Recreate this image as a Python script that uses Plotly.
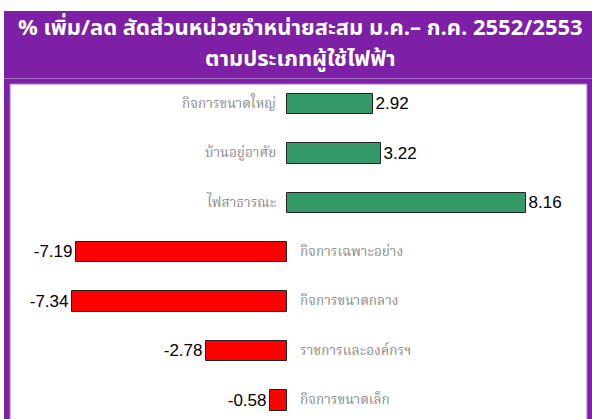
import plotly.graph_objects as go

categories = ["กิจการขนาดใหญ่", "บ้านอยู่อาศัย", "ไฟสาธารณะ", "กิจการเฉพาะอย่าง",
              "กิจการขนาดกลาง", "ราชการและองค์กรฯ", "กิจการขนาดเล็ก"]
values = [2.92, 3.22, 8.16, -7.19, -7.34, -2.78, -0.58]
title_lines = ["% เพิ่ม/ลด สัดส่วนหน่วยจำหน่ายสะสม ม.ค.– ก.ค. 2552/2553", "ตามประเภทผู้ใช้ไฟฟ้า"]

W, H = 592, 419
L, R, T, B = 10, 5, 84, 0
PW, PH = W - L - R, H - T - B
PURPLE = "#7E20A6"
LIGHT = "#A873C8"

def px(x):
    return (x - L) / PW

def py(y):
    return (H - B - y) / PH

ypos = list(range(len(categories)))
colors = ["#339966" if v >= 0 else "#FF0000" for v in values]

fig = go.Figure()
fig.add_trace(go.Bar(
    y=ypos, x=values, orientation="h",
    marker=dict(color=colors, line=dict(color="#222222", width=1)),
    width=0.41,
    text=[f"{v:.2f}" for v in values], textposition="outside",
    textfont=dict(family="Liberation Sans, Arial", size=17, color="black"),
    cliponaxis=False, hoverinfo="skip",
))

annotations = []
for i, (c, v) in enumerate(zip(categories, values)):
    annotations.append(dict(
        x=0, y=i, xref="x", yref="y", text=c, showarrow=False,
        xanchor="right" if v >= 0 else "left",
        xshift=-9 if v >= 0 else 11,
        font=dict(family="Noto Serif Thai, Noto Sans Thai, Noto Sans, DejaVu Sans", size=13.5, color="#8a8a8a"),
    ))
for j, (line, ycen) in enumerate(zip(title_lines, [28, 60])):
    annotations.append(dict(
        x=px(300), y=py(ycen), xref="paper", yref="paper", text=f"<b>{line}</b>",
        showarrow=False, xanchor="center", yanchor="middle",
        font=dict(family="Noto Sans Thai, Noto Sans, DejaVu Sans", size=22, color="white"),
    ))

shapes = [
    # purple panel
    dict(type="rect", xref="paper", yref="paper", x0=px(4), x1=px(W + 2), y0=py(H + 2), y1=py(11),
         fillcolor=PURPLE, line=dict(width=0), layer="below"),
    # white chart box
    dict(type="rect", xref="paper", yref="paper", x0=px(10), x1=px(587), y0=py(H + 2), y1=py(84),
         fillcolor="white", line=dict(color=LIGHT, width=1), layer="below"),
    # light separator under title
    dict(type="line", xref="paper", yref="paper", x0=px(4), x1=px(W + 2), y0=py(78.5), y1=py(78.5),
         line=dict(color=LIGHT, width=1), layer="below"),
]

fig.update_layout(
    width=W, height=H,
    margin=dict(l=L, r=R, t=T, b=B, pad=0, autoexpand=False),
    paper_bgcolor="white", plot_bgcolor="white",
    showlegend=False,
    xaxis=dict(range=[(L - 287) / 29.3, (W - R - 287) / 29.3], visible=False, fixedrange=True),
    yaxis=dict(range=[(H - 104) / 49.4, (T - 104) / 49.4], visible=False, fixedrange=True),
    annotations=annotations, shapes=shapes,
    bargap=0,
)

fig.write_html("out.html", config={"displayModeBar": False},
               post_script="document.body.style.margin='0';document.body.style.overflow='hidden';")
